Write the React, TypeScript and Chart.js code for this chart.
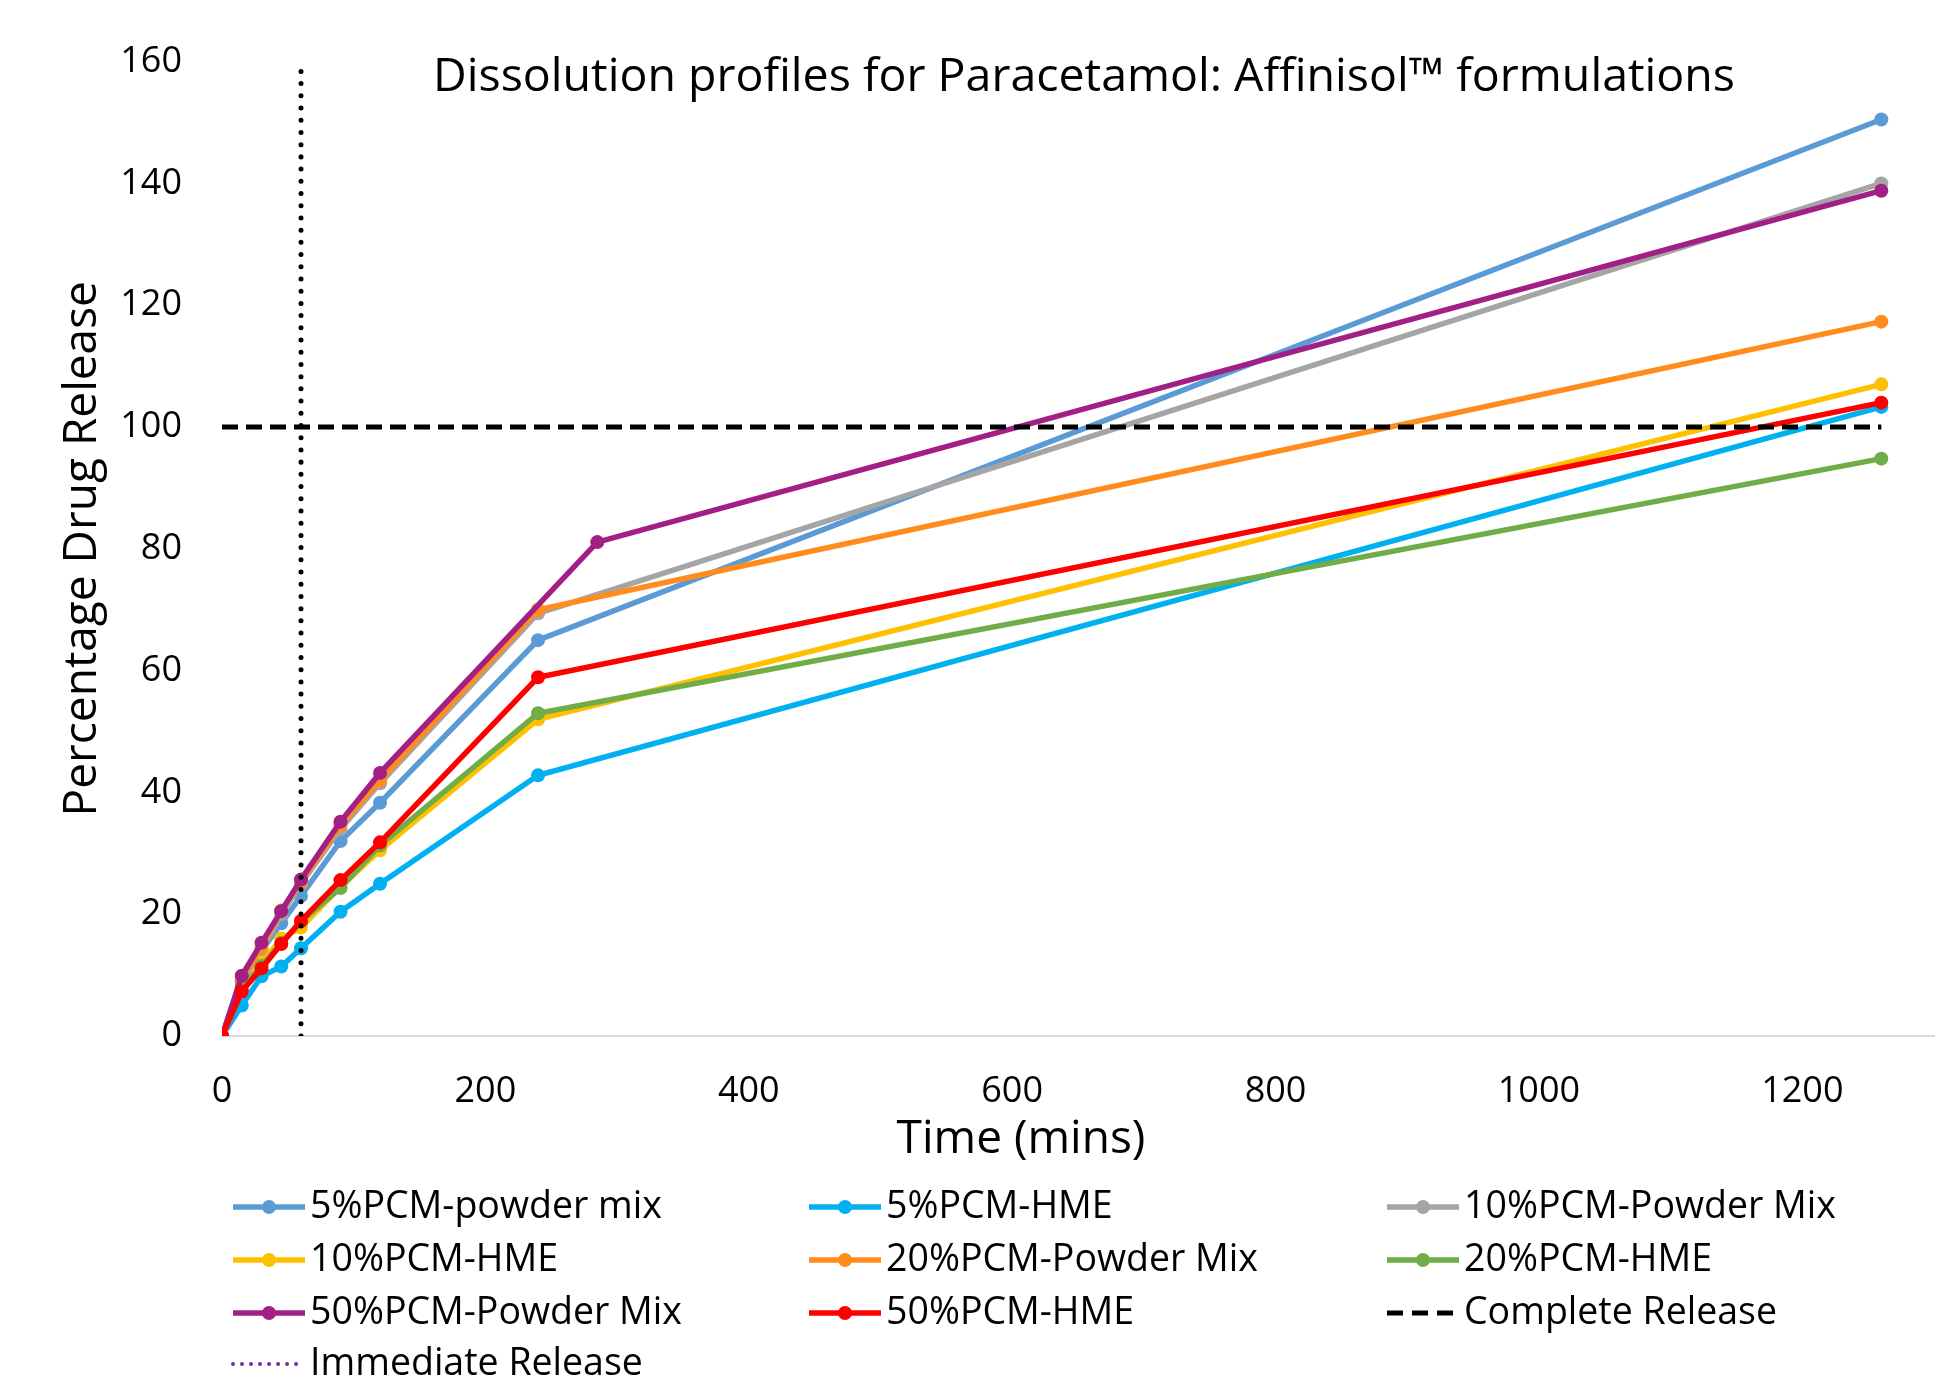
import React, { useEffect, useRef } from "react";
import { Chart, registerables } from "chart.js";

Chart.register(...registerables);

// ---- Data ----
const timeMins = [0, 15, 30, 45, 60, 90, 120, 240, 1260];
const timeMins50Powder = [0, 15, 30, 45, 60, 90, 120, 285, 1260];

const powder5 = [0, 9, 14, 18.5, 23, 32, 38.3, 65, 150.5];
const hme5 = [0, 5, 9.8, 11.4, 14.4, 20.4, 25, 42.8, 103.3];
const powder10 = [0, 9, 14, 20, 25, 34, 41.5, 69.4, 140];
const hme10 = [0, 7.5, 12, 16, 17.8, 24.5, 30.5, 52, 107];
const powder20 = [0, 9.2, 14.5, 20.6, 25.2, 34.6, 42, 70, 117.3];
const hme20 = [0, 8, 11.5, 15.3, 18.8, 24.3, 31.3, 53, 94.8];
const powder50 = [0, 9.9, 15.3, 20.5, 25.7, 35.2, 43.2, 81.1, 138.8];
const hme50 = [0, 7.3, 11.1, 15.1, 18.9, 25.6, 31.8, 58.9, 104];

const completeReleaseX = [0, 1260];
const completeReleaseY = [100, 100];
const immediateReleaseX = [60, 60];
const immediateReleaseY = [0, 160];

const seriesLabels = [
  "5%PCM-powder mix",
  "5%PCM-HME",
  "10%PCM-Powder Mix",
  "10%PCM-HME",
  "20%PCM-Powder Mix",
  "20%PCM-HME",
  "50%PCM-Powder Mix",
  "50%PCM-HME",
];
const seriesColors = [
  "#5B9BD5",
  "#00B0F0",
  "#A5A5A5",
  "#FFC000",
  "#FF8C1C",
  "#70AD47",
  "#A21F85",
  "#FF0000",
];
const seriesX = [timeMins, timeMins, timeMins, timeMins, timeMins, timeMins, timeMins50Powder, timeMins];
const seriesY = [powder5, hme5, powder10, hme10, powder20, hme20, powder50, hme50];

const titleText = "Dissolution profiles for Paracetamol: Affinisol\u2122 formulations";
const xTitle = "Time (mins)";
const yTitle = "Percentage Drug Release";

const FONT = "'Open Sans', 'Noto Sans', sans-serif";

const toPoints = (xs: number[], ys: number[]) => xs.map((x, i) => ({ x, y: ys[i] }));

const titlePlugin = {
  id: "innerTitle",
  afterDraw(chart: any) {
    const ctx = chart.ctx;
    ctx.save();
    ctx.fillStyle = "#000";
    ctx.textAlign = "center";
    ctx.textBaseline = "middle";
    ctx.font = `46.5px ${FONT}`;
    ctx.fillText(titleText, 1084, 78);
    ctx.font = `46px ${FONT}`;
    ctx.fillText(xTitle, 1021, 1140);
    ctx.restore();
  },
};

const gridLegendPlugin = {
  id: "gridLegend",
  afterDraw(chart: any) {
    const ctx = chart.ctx;
    const colX = [233, 809, 1387];
    const rowY = [1207, 1260, 1313, 1364];
    const w = 72;
    chart.data.datasets.forEach((d: any, i: number) => {
      const col = i % 3;
      const row = Math.floor(i / 3);
      const x0 = colX[col];
      const y = rowY[row];
      ctx.save();
      ctx.strokeStyle = d.legendColor || d.borderColor;
      ctx.lineWidth = d.legendWidth || d.borderWidth;
      ctx.lineCap = d.legendCap || "butt";
      ctx.setLineDash(d.legendDash || []);
      ctx.beginPath();
      ctx.moveTo(x0, y);
      ctx.lineTo(x0 + w, y);
      ctx.stroke();
      if (d.pointRadius > 0) {
        ctx.setLineDash([]);
        ctx.fillStyle = d.borderColor;
        ctx.beginPath();
        ctx.arc(x0 + w / 2, y, d.pointRadius, 0, Math.PI * 2);
        ctx.fill();
      }
      ctx.fillStyle = "#000";
      ctx.font = `37.5px ${FONT}`;
      ctx.textAlign = "left";
      ctx.textBaseline = "middle";
      ctx.fillText(d.label, x0 + w + 5, y);
      ctx.restore();
    });
  },
};

export default function App() {
  const canvasRef = useRef<HTMLCanvasElement | null>(null);

  useEffect(() => {
    if (!canvasRef.current) return;
    const n = seriesLabels.length;
    const datasets: any[] = seriesLabels.map((label, i) => ({
      label,
      data: toPoints(seriesX[i], seriesY[i]),
      borderColor: seriesColors[i],
      backgroundColor: seriesColors[i],
      pointBackgroundColor: seriesColors[i],
      pointBorderColor: seriesColors[i],
      borderWidth: 5.5,
      pointRadius: 7,
      pointBorderWidth: 0,
      fill: false,
      tension: 0,
      order: n + 2 - i,
    }));
    datasets.push({
      label: "Complete Release",
      data: toPoints(completeReleaseX, completeReleaseY),
      borderColor: "#000000",
      backgroundColor: "#000000",
      borderWidth: 5,
      borderDash: [16, 8],
      legendDash: [16, 9],
      pointRadius: 0,
      fill: false,
      order: 1,
    });
    datasets.push({
      label: "Immediate Release",
      data: toPoints(immediateReleaseX, immediateReleaseY),
      borderColor: "#000000",
      backgroundColor: "#000000",
      borderWidth: 5,
      borderDash: [0.01, 12.2],
      borderCapStyle: "round",
      legendColor: "#7030A0",
      legendDash: [0.01, 9],
      legendCap: "round",
      legendWidth: 4,
      pointRadius: 0,
      fill: false,
      order: 0,
    });

    const chart = new Chart(canvasRef.current, {
      type: "line",
      data: { datasets },
      options: {
        animation: false,
        responsive: false,
        maintainAspectRatio: false,
        layout: { padding: { top: 61, right: 6, left: 0, bottom: 205 } },
        plugins: {
          legend: { display: false },
          title: { display: false },
          tooltip: { enabled: false },
        },
        scales: {
          x: {
            type: "linear",
            min: 0,
            max: 1300,
            grid: { display: false, drawTicks: false },
            border: { display: true, color: "#D9D9D9", width: 2 },
            ticks: {
              stepSize: 200,
              includeBounds: false,
              padding: 34,
              color: "#000",
              font: { family: FONT, size: 36 },
              maxRotation: 0,
              callback: (v: any) => String(v),
            },
            title: { display: false },
            afterFit: (scale: any) => {
              scale.height = 135;
            },
          },
          y: {
            type: "linear",
            min: 0,
            max: 160,
            grid: { display: false, drawTicks: false },
            border: { display: false },
            ticks: {
              stepSize: 20,
              padding: 40,
              color: "#000",
              font: { family: FONT, size: 36 },
              callback: (v: any) => String(v),
            },
            title: {
              display: true,
              text: yTitle,
              color: "#000",
              font: { family: FONT, size: 46 },
              padding: { top: 55, bottom: 0 },
            },
            afterFit: (scale: any) => {
              scale.width = 222;
            },
          },
        },
      } as any,
      plugins: [titlePlugin, gridLegendPlugin],
    });
    return () => chart.destroy();
  }, []);

  return (
    <div style={{ position: "absolute", left: 0, top: 0, width: 1941, height: 1376, background: "#fff" }}>
      <canvas ref={canvasRef} width={1941} height={1376} style={{ width: 1941, height: 1376, display: "block" }} />
    </div>
  );
}
